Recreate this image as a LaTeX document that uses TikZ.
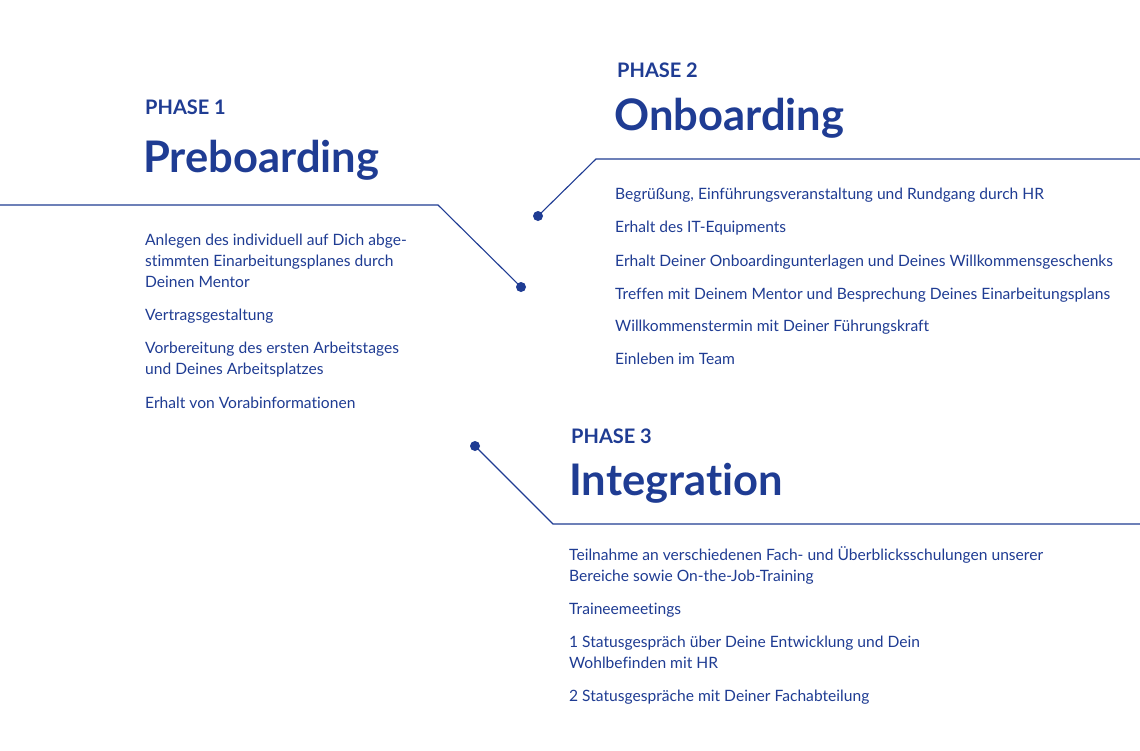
\documentclass[tikz,border=0pt]{standalone}
\usepackage{fontspec}
\setmainfont{Lato}[Ligatures={NoCommon}]
\definecolor{pblue}{HTML}{1F3C93}
\begin{document}
\begin{tikzpicture}[x=1pt,y=-1pt,
  txt/.style={anchor=base west,inner sep=0pt,text=pblue,font=\fontsize{15.6}{21}\selectfont,align=left},
  phase/.style={anchor=base west,inner sep=0pt,text=pblue,font=\fontsize{20}{24}\bfseries\selectfont},
  ttl/.style={anchor=base west,inner sep=0pt,text=pblue,font=\fontsize{43.5}{50}\bfseries\selectfont},
  ln/.style={draw=pblue,line width=1.1pt},
  dot/.style={circle,fill=pblue,inner sep=0pt,minimum size=10pt}]
\useasboundingbox (0,0) rectangle (1140,750);
\fill[white] (0,0) rectangle (1140,750);
% phase 1
\node[phase] (p1) at (145,114) {PHASE 1};
\node[ttl] (t1) at (143,172) {Preboarding};
\coordinate (a0) at (0,205); \coordinate (a1) at (438,205);
\node[dot] (d1) at (521,287) {};
\draw[ln] (a0) -- (a1) -- (d1.center);
\node[txt] at (145,245) {Anlegen des individuell auf Dich abge-};
\node[txt] at (145,266) {stimmten Einarbeitungsplanes durch};
\node[txt] at (145,287) {Deinen Mentor};
\node[txt] at (145,320) {Vertragsgestaltung};
\node[txt] at (145,353) {Vorbereitung des ersten Arbeitstages};
\node[txt] at (145,374) {und Deines Arbeitsplatzes};
\node[txt] at (145,408) {Erhalt von Vorabinformationen};
% phase 2
\node[phase] (p2) at (617,77) {PHASE 2};
\node[ttl] (t2) at (614,130) {Onboarding};
\node[dot] (d2) at (538,216) {};
\coordinate (b1) at (596,159); \coordinate (b2) at (1140,159);
\draw[ln] (d2.center) -- (b1) -- (b2);
\node[txt] at (615,199) {Begrüßung, Einführungsveranstaltung und Rundgang durch HR};
\node[txt] at (615,232) {Erhalt des IT-Equipments};
\node[txt] at (615,266) {Erhalt Deiner Onboardingunterlagen und Deines Willkommensgeschenks};
\node[txt] at (615,299) {Treffen mit Deinem Mentor und Besprechung Deines Einarbeitungsplans};
\node[txt] at (615,331) {Willkommenstermin mit Deiner Führungskraft};
\node[txt] at (615,364) {Einleben im Team};
% phase 3
\node[phase] (p3) at (571,443) {PHASE 3};
\node[ttl] (t3) at (569,495) {Integration};
\node[dot] (d3) at (475,446) {};
\coordinate (c1) at (553,524); \coordinate (c2) at (1140,524);
\draw[ln] (d3.center) -- (c1) -- (c2);
\node[txt] at (569,560) {Teilnahme an verschiedenen Fach- und Überblicksschulungen unserer};
\node[txt] at (569,581) {Bereiche sowie On-the-Job-Training};
\node[txt] at (569,614) {Traineemeetings};
\node[txt] at (569,647) {1 Statusgespräch über Deine Entwicklung und Dein};
\node[txt] at (569,668) {Wohlbefinden mit HR};
\node[txt] at (569,701) {2 Statusgespräche mit Deiner Fachabteilung};
\end{tikzpicture}
\end{document}
